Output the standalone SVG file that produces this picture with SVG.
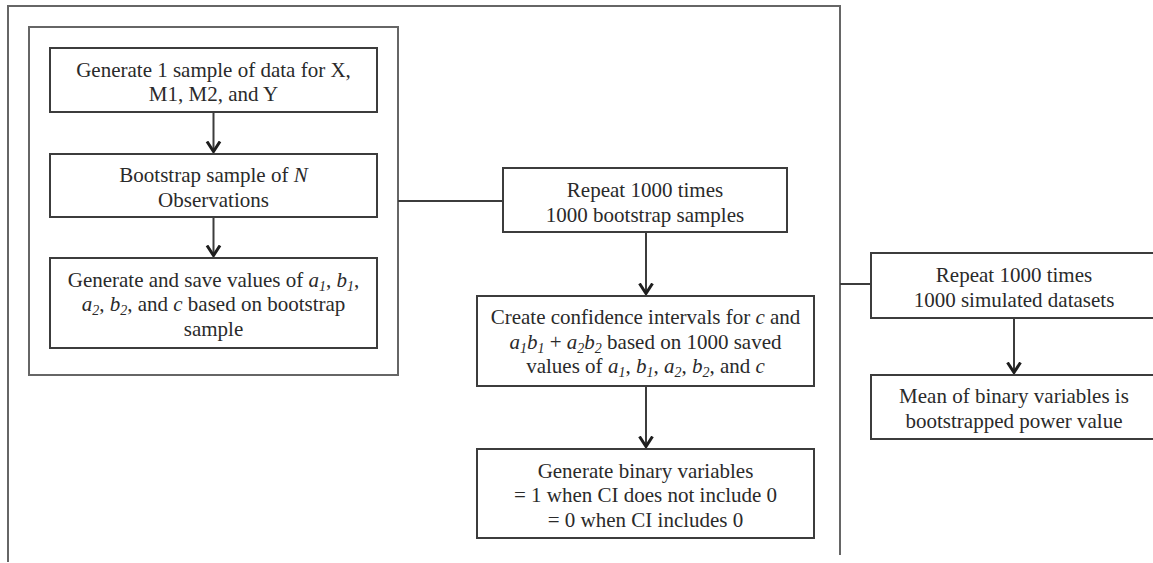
<svg xmlns="http://www.w3.org/2000/svg" width="1153" height="563" viewBox="0 0 1153 563">
<style>
  .frame { fill: none; stroke: #666; stroke-width: 2; }
  .box { fill: #fff; stroke: #3c3c3c; stroke-width: 2; }
  .conn { fill: none; stroke: #3c3c3c; stroke-width: 2; }
  text { font-family: 'Liberation Serif', Tinos, 'Times New Roman', Times, serif; font-size: 21px; fill: #2a2a2a; text-anchor: middle; }
  .i { font-style: italic; }
  .s { font-style: italic; font-size: 14px; }
</style>
<defs>
  <marker id="chev" viewBox="0 0 14 18" refX="11" refY="9" markerWidth="14" markerHeight="18" markerUnits="userSpaceOnUse" orient="auto">
    <path d="M0.5,2.5 L10.5,9 L0.5,15.5" fill="none" stroke="#1e1e1e" stroke-width="3"/>
  </marker>
</defs>
<rect width="1153" height="563" fill="#fff"/>

<g id="outer-loop">
  <path class="frame" d="M8,562 V6 H840 V555"/>
</g>
<g id="inner-loop">
  <rect class="frame" x="29" y="27" width="369" height="348"/>
</g>

<g id="connectors">
  <line class="conn" x1="213.5" y1="112" x2="213.5" y2="152" marker-end="url(#chev)"/>
  <line class="conn" x1="213.5" y1="217" x2="213.5" y2="256" marker-end="url(#chev)"/>
  <line class="conn" x1="398" y1="201" x2="503" y2="201"/>
  <line class="conn" x1="646" y1="232" x2="646" y2="294" marker-end="url(#chev)"/>
  <line class="conn" x1="646" y1="386" x2="646" y2="447" marker-end="url(#chev)"/>
  <line class="conn" x1="840" y1="284" x2="871" y2="284"/>
  <line class="conn" x1="1014" y1="318" x2="1014" y2="373" marker-end="url(#chev)"/>
</g>

<g id="gen-sample">
  <rect class="box" x="50" y="48" width="327" height="64"/>
  <text x="213.5" y="76.5">Generate 1 sample of data for X,</text>
  <text x="213.5" y="101">M1, M2, and Y</text>
</g>

<g id="bootstrap-sample">
  <rect class="box" x="50" y="154" width="327" height="63"/>
  <text x="213.5" y="182">Bootstrap sample of <tspan class="i">N</tspan></text>
  <text x="213.5" y="206.5">Observations</text>
</g>

<g id="save-values">
  <rect class="box" x="50" y="258" width="327" height="90"/>
  <text x="213.5" y="286.5">Generate and save values of <tspan class="i">a</tspan><tspan class="s" dy="4">1</tspan><tspan dy="-4">, </tspan><tspan class="i">b</tspan><tspan class="s" dy="4">1</tspan><tspan dy="-4">,</tspan></text>
  <text x="213.5" y="311"><tspan class="i">a</tspan><tspan class="s" dy="4">2</tspan><tspan dy="-4">, </tspan><tspan class="i">b</tspan><tspan class="s" dy="4">2</tspan><tspan dy="-4">, and </tspan><tspan class="i">c</tspan> based on bootstrap</text>
  <text x="213.5" y="335.5">sample</text>
</g>

<g id="repeat-bootstrap">
  <rect class="box" x="503" y="168" width="284" height="64"/>
  <text x="645" y="197">Repeat 1000 times</text>
  <text x="645" y="222">1000 bootstrap samples</text>
</g>

<g id="confidence-intervals">
  <rect class="box" x="477" y="296" width="337" height="90"/>
  <text x="645.5" y="324">Create confidence intervals for <tspan class="i">c</tspan> and</text>
  <text x="645.5" y="348.5"><tspan class="i">a</tspan><tspan class="s" dy="4">1</tspan><tspan class="i" dy="-4">b</tspan><tspan class="s" dy="4">1</tspan><tspan dy="-4"> + </tspan><tspan class="i">a</tspan><tspan class="s" dy="4">2</tspan><tspan class="i" dy="-4">b</tspan><tspan class="s" dy="4">2</tspan><tspan dy="-4"> based on 1000 saved</tspan></text>
  <text x="645.5" y="373">values of <tspan class="i">a</tspan><tspan class="s" dy="4">1</tspan><tspan dy="-4">, </tspan><tspan class="i">b</tspan><tspan class="s" dy="4">1</tspan><tspan dy="-4">, </tspan><tspan class="i">a</tspan><tspan class="s" dy="4">2</tspan><tspan dy="-4">, </tspan><tspan class="i">b</tspan><tspan class="s" dy="4">2</tspan><tspan dy="-4">, and </tspan><tspan class="i">c</tspan></text>
</g>

<g id="binary-variables">
  <rect class="box" x="477" y="449" width="337" height="89"/>
  <text x="645.5" y="477.5">Generate binary variables</text>
  <text x="645.5" y="502">= 1 when CI does not include 0</text>
  <text x="645.5" y="526.5">= 0 when CI includes 0</text>
</g>

<g id="repeat-datasets">
  <rect class="box" x="871" y="253" width="286" height="65"/>
  <text x="1014" y="282">Repeat 1000 times</text>
  <text x="1014" y="306.5">1000 simulated datasets</text>
</g>

<g id="power-value">
  <rect class="box" x="871" y="375" width="286" height="64"/>
  <text x="1014" y="403">Mean of binary variables is</text>
  <text x="1014" y="427.5">bootstrapped power value</text>
</g>
</svg>
